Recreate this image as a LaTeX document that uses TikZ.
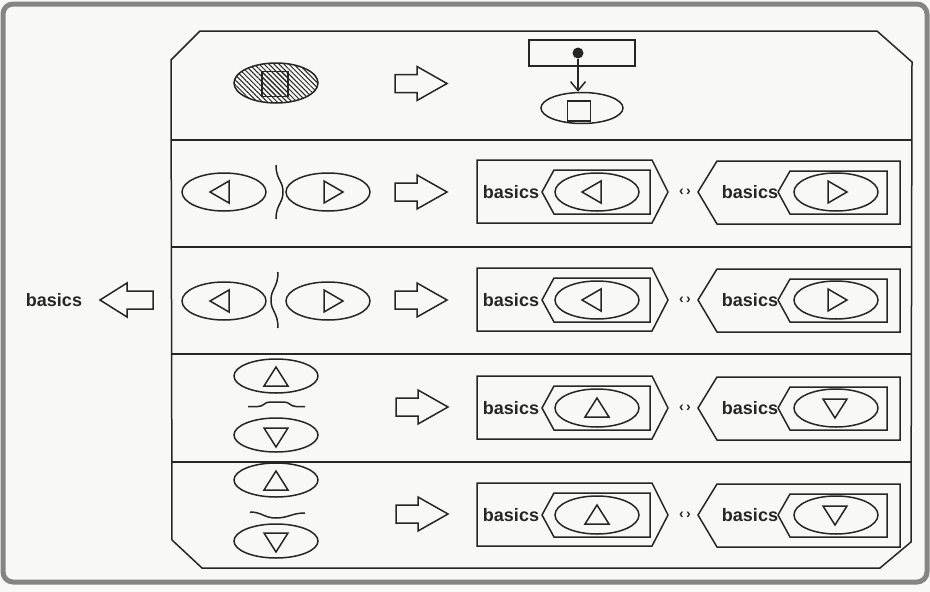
\documentclass[tikz,border=0pt]{standalone}
\usepackage{fontspec}
\newfontfamily\labfont{Liberation Sans}
\usetikzlibrary{arrows.meta,patterns.meta,shapes.geometric}
\definecolor{ink}{HTML}{262626}
\definecolor{paper}{HTML}{F8F8F6}
\definecolor{rim}{HTML}{858585}
\tikzset{
  ln/.style={draw=ink,line width=1.5pt,line join=miter},
  ell/.style={ellipse,draw=ink,line width=1.5pt,minimum width=84pt,minimum height=38pt,inner sep=0pt},
  vell/.style={ell,minimum height=34pt},
  lbl/.style={font=\labfont\bfseries\fontsize{18}{18}\selectfont,text=ink,inner sep=0pt},
  tiny/.style={font=\labfont\bfseries\fontsize{14}{14}\selectfont,text=ink,inner sep=0pt},
  hatch/.style={pattern={Lines[angle=-45,distance=3.5pt,line width=1pt]},pattern color=ink},
}
% triangles (pixel coordinates, y downwards)
\newcommand\tL[2]{\draw[ln] ({#1-10},#2) -- ({#1+9},{#2-11}) -- ({#1+9},{#2+11}) -- cycle;}
\newcommand\tR[2]{\draw[ln] ({#1+10},#2) -- ({#1-9},{#2-11}) -- ({#1-9},{#2+11}) -- cycle;}
\newcommand\tU[2]{\draw[ln] (#1,{#2-10}) -- ({#1+12},{#2+9}) -- ({#1-12},{#2+9}) -- cycle;}
\newcommand\tD[2]{\draw[ln] (#1,{#2+10}) -- ({#1+12},{#2-9}) -- ({#1-12},{#2-9}) -- cycle;}
% block arrows
\newcommand\rarr[2]{\draw[ln] (#1,{#2-9}) -- ({#1+22},{#2-9}) -- ({#1+22},{#2-17}) -- ({#1+52},#2) -- ({#1+22},{#2+17}) -- ({#1+22},{#2+9}) -- (#1,{#2+9}) -- cycle;}
\newcommand\larr[2]{\draw[ln] (#1,{#2-9}) -- ({#1-26},{#2-9}) -- ({#1-26},{#2-17}) -- ({#1-53},#2) -- ({#1-26},{#2+17}) -- ({#1-26},{#2+9}) -- (#1,{#2+9}) -- cycle;}
% pair of "basics" composites; #1 name prefix, #2 centre y, #3 left symbol, #4 right symbol
\newcommand\comps[4]{%
  \begin{scope}[shift={(0,#2)}]
    \draw[ln] (477,-32) -- (652,-32) -- (668,0) -- (652,31) -- (477,31) -- cycle;
    \node[lbl] (#1bl) at (511,0) {basics};
    \draw[ln] (542,0) -- (554,-22) -- (650,-22) -- (650,22) -- (554,22) -- cycle;
    \node[ell] (#1el) at (597,0) {};
    #3
    \node[tiny] (#1sym) at (685,0) {‹\,›};
    \draw[ln] (698,0) -- (717,-31) -- (900,-31) -- (900,32) -- (717,32) -- cycle;
    \node[lbl] (#1br) at (750,0) {basics};
    \draw[ln] (778,0) -- (790,-21) -- (887,-21) -- (887,22) -- (790,22) -- cycle;
    \node[ell] (#1er) at (836,0) {};
    #4
  \end{scope}}
\begin{document}
\begin{tikzpicture}[x=1pt,y=-1pt]
\useasboundingbox (0,0) rectangle (930,592);
\fill[paper] (0,0) rectangle (930,592);
\draw[rim,line width=5pt,rounded corners=10pt] (3,4) rectangle (927,582);

% main frame and row dividers
\draw[ln] (200,31) -- (877,31) -- (912,62) -- (911,542) -- (880,568) -- (202,568) -- (172,540) -- (171,60) -- cycle;
\foreach \yy in {140,247,354,462} \draw[ln] (171,\yy) -- (912,\yy);

% row 1
\node[ell,minimum height=40pt,hatch] (hatell) at (276,83) {};
\node[draw=ink,line width=1.5pt,minimum width=26pt,minimum height=25pt,inner sep=0pt,hatch] (hatsq) at (275,84) {};
\rarr{395}{83.5}
\node[draw=ink,line width=1.5pt,minimum width=106pt,minimum height=26pt,inner sep=0pt] (topbox) at (582,53) {};
\node[circle,fill=ink,minimum size=11pt,inner sep=0pt] (dot) at (578,53) {};
\node[ell,minimum width=82pt,minimum height=31pt] (topell) at (582,108) {};
\node[draw=ink,line width=1.5pt,minimum width=23pt,minimum height=20pt,inner sep=0pt] (topsq) at (579,111) {};
\draw[ln,-{Straight Barb[length=9pt,width=15pt,line width=1.5pt]}] (dot) -- (dot |- topell.north);

% row 2
\node[ell] (r2a) at (224,192) {};
\tL{220}{192}
\draw[ln] (276,165) .. controls (276,180) and (283,180) .. (283,192) .. controls (283,204) and (276,204) .. (276,219);
\node[ell] (r2b) at (328,192) {};
\tR{333}{192}
\rarr{395}{192}
\comps{rtwo}{192}{\tL{592}{0}}{\tR{837}{0}}

% row 3
\node[lbl] (outer) at (54,300) {basics};
\larr{153}{300}
\node[ell] (r3a) at (224,301) {};
\tL{220}{301}
\draw[ln] (278,272) .. controls (278,288) and (271,288) .. (271,300) .. controls (271,312) and (278,312) .. (278,328);
\node[ell] (r3b) at (328,301) {};
\tR{333}{301}
\rarr{395}{300}
\comps{rthree}{300}{\tL{592}{0}}{\tR{837}{0}}

% row 4
\node[vell] (r4a) at (276,376) {};
\tU{276}{377}
\draw[ln] (248,406.5) -- (258,406.5) .. controls (264,406.5) and (264,402) .. (270,402) -- (284,402) .. controls (290,402) and (290,406.5) .. (296,406.5) -- (305,406.5);
\node[vell] (r4b) at (276,435) {};
\tD{276}{437}
\rarr{396}{407}
\comps{rfour}{408}{\tU{597}{0}}{\tD{835}{0}}

% row 5
\node[vell] (r5a) at (276,480) {};
\tU{276}{481}
\draw[ln] (250,512) .. controls (262,512) and (264,518) .. (276,518) .. controls (288,518) and (292,513) .. (305,513);
\node[vell] (r5b) at (276,541) {};
\tD{276}{542}
\rarr{396}{514}
\comps{rfive}{515}{\tU{597}{0}}{\tD{835}{0}}
\end{tikzpicture}
\end{document}
